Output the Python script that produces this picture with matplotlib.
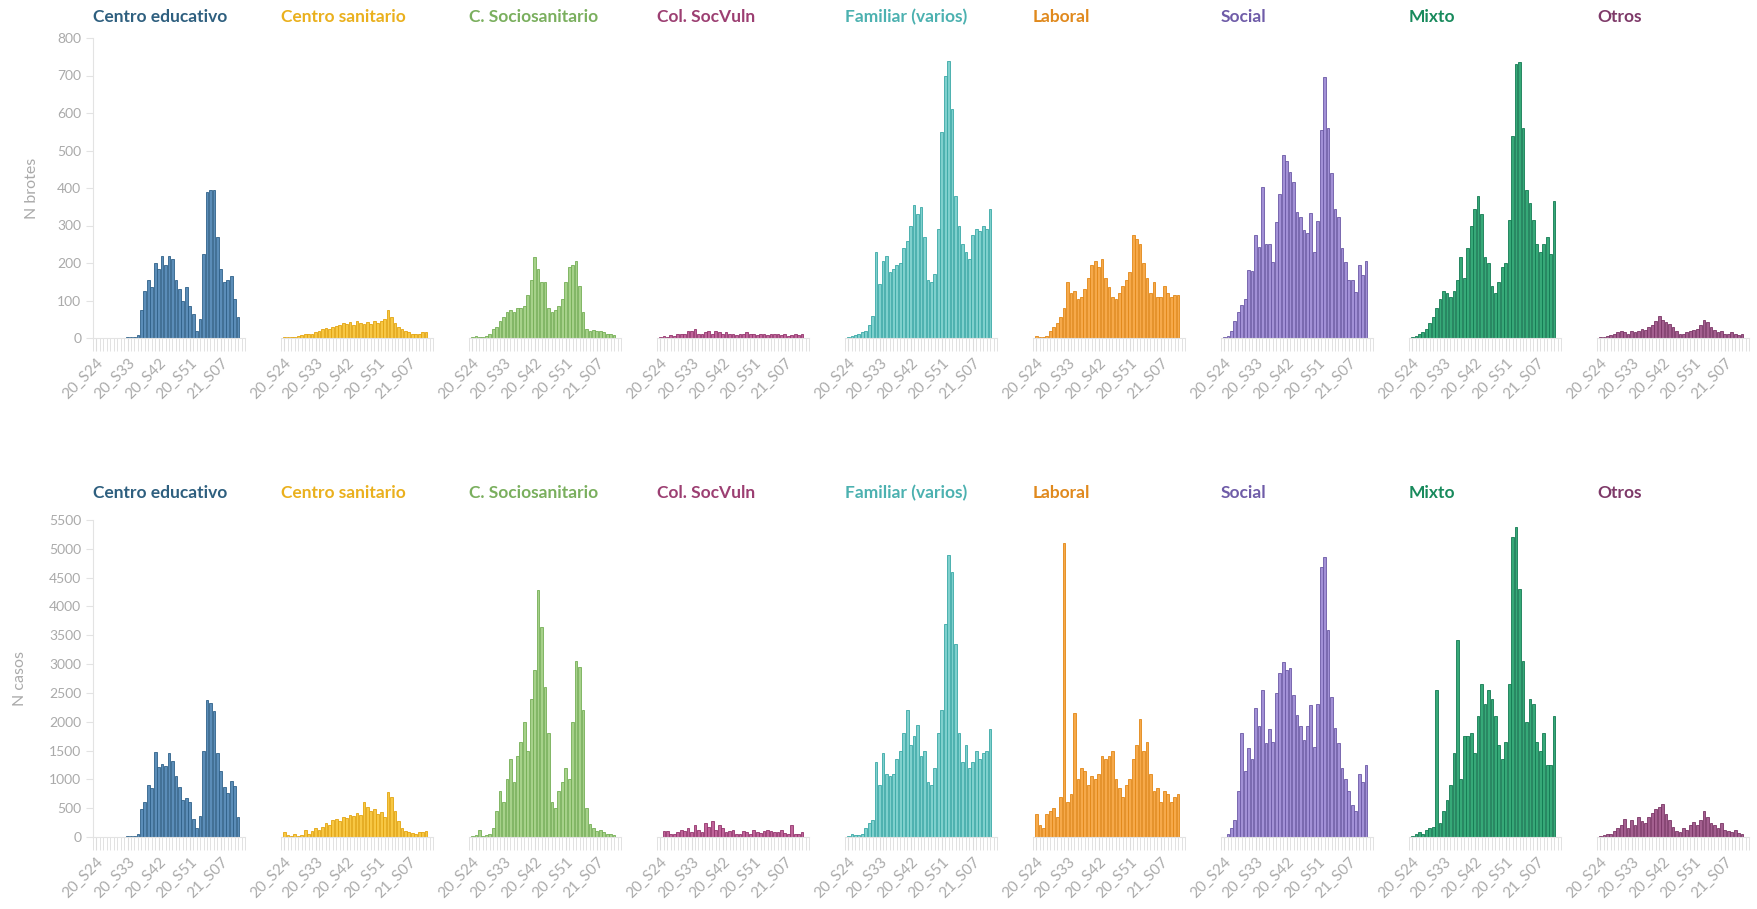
import matplotlib
matplotlib.use('Agg')
import matplotlib.pyplot as plt
from matplotlib.ticker import MultipleLocator

plt.rcParams['font.family'] = ['Lato', 'DejaVu Sans']

# semanas 20_S24 ... 21_S12
semanas = ['20_S%02d' % s for s in range(24, 54)] + ['21_S%02d' % s for s in range(1, 13)]
etiquetas = ['20_S24', '20_S33', '20_S42', '20_S51', '21_S07']

ambitos = ['Centro educativo', 'Centro sanitario', 'C. Sociosanitario', 'Col. SocVuln',
           'Familiar (varios)', 'Laboral', 'Social', 'Mixto', 'Otros']

# N brotes por semana
brotes_educativo = [0, 0, 0, 0, 0, 0, 0, 0, 1, 3, 3, 3, 8, 75, 125, 155, 135, 200, 185, 220, 195,
                    220, 210, 155, 130, 100, 135, 85, 65, 20, 50, 225, 390, 395, 395, 270, 185,
                    150, 155, 165, 105, 55]
brotes_sanitario = [3, 2, 2, 2, 5, 8, 10, 10, 12, 15, 18, 25, 28, 25, 30, 32, 35, 40, 38, 42, 35,
                    45, 40, 38, 42, 38, 45, 40, 45, 50, 75, 55, 40, 30, 25, 18, 15, 12, 10, 12, 15, 15]
brotes_sociosan = [3, 5, 2, 3, 6, 10, 25, 30, 45, 55, 70, 75, 70, 80, 80, 85, 115, 155, 215, 185, 150,
                   150, 80, 70, 75, 85, 105, 150, 190, 195, 205, 140, 70, 25, 20, 22, 18, 20, 15, 12, 10, 8]
brotes_socvuln = [3, 5, 2, 8, 6, 10, 12, 10, 18, 20, 25, 12, 10, 15, 18, 12, 20, 15, 10, 15, 12,
                  10, 8, 12, 10, 15, 12, 10, 8, 12, 10, 8, 12, 10, 12, 8, 10, 6, 8, 10, 8, 12]
brotes_familiar = [3, 5, 8, 10, 15, 20, 35, 60, 230, 145, 205, 220, 175, 185, 195, 200, 240, 260, 300,
                   355, 330, 350, 270, 155, 150, 170, 290, 550, 700, 740, 610, 380, 300, 250, 230, 210,
                   275, 290, 285, 300, 290, 345]
brotes_laboral = [5, 3, 3, 5, 20, 30, 40, 55, 80, 150, 120, 125, 105, 110, 130, 160, 195, 205, 190, 210,
                  160, 135, 110, 105, 120, 140, 155, 175, 275, 265, 250, 200, 160, 120, 150, 110, 110,
                  140, 120, 110, 115, 115]
brotes_social = [2, 5, 20, 45, 70, 89, 105, 181, 179, 275, 244, 404, 250, 252, 204, 309, 384, 488, 471,
                 443, 416, 336, 324, 288, 281, 333, 230, 313, 556, 696, 561, 440, 345, 324, 239, 204,
                 154, 154, 123, 195, 168, 205]
brotes_mixto = [2, 5, 10, 15, 25, 40, 55, 80, 105, 125, 120, 110, 125, 155, 215, 160, 240, 300, 345, 380,
                330, 215, 200, 140, 120, 150, 190, 200, 315, 540, 730, 735, 560, 395, 360, 315, 250,
                230, 250, 270, 225, 365]
brotes_otros = [2, 3, 5, 8, 10, 15, 18, 15, 12, 18, 15, 20, 25, 22, 30, 35, 45, 58, 48, 42, 38, 30,
                20, 12, 10, 15, 18, 22, 25, 35, 48, 42, 30, 22, 15, 18, 12, 10, 15, 12, 8, 10]

# N casos por semana
casos_educativo = [0, 0, 0, 0, 0, 0, 0, 0, 0, 10, 15, 20, 60, 480, 610, 900, 850, 1480, 1220, 1260,
                   1230, 1460, 1320, 1060, 870, 640, 680, 600, 310, 150, 370, 1500, 2380, 2320, 2180,
                   1460, 1150, 870, 760, 980, 880, 350]
casos_sanitario = [80, 30, 10, 60, 20, 40, 120, 60, 100, 150, 130, 180, 250, 200, 300, 320, 280, 350,
                   330, 380, 360, 420, 380, 600, 520, 450, 480, 400, 430, 350, 780, 700, 450, 280, 150,
                   100, 80, 70, 60, 80, 90, 100]
casos_sociosan = [20, 30, 120, 10, 30, 50, 150, 450, 800, 600, 1000, 1350, 950, 1400, 1650, 2000, 1500,
                  2400, 2900, 4280, 3650, 2600, 1800, 600, 500, 800, 950, 1200, 1000, 2000, 3050, 2950,
                  2200, 500, 220, 150, 100, 120, 80, 60, 50, 40]
casos_socvuln = [0, 100, 100, 50, 60, 80, 120, 100, 150, 90, 200, 130, 80, 250, 180, 270, 120, 210, 150,
                 80, 100, 120, 60, 50, 110, 80, 60, 130, 90, 70, 110, 130, 100, 90, 80, 120, 70, 60,
                 200, 60, 50, 90]
casos_familiar = [20, 50, 30, 40, 60, 150, 250, 300, 1300, 900, 1450, 1100, 1050, 1100, 1350, 1500, 1800,
                  2200, 1600, 1750, 1950, 1400, 1500, 950, 900, 1200, 1800, 2200, 3700, 4900, 4600, 3350,
                  1800, 1300, 1600, 1200, 1300, 1500, 1350, 1450, 1500, 1870]
casos_laboral = [400, 200, 150, 400, 450, 500, 350, 700, 5100, 600, 750, 2150, 1000, 1200, 1150, 900,
                 1050, 1000, 1100, 1400, 1350, 1400, 1500, 1000, 850, 700, 900, 1000, 1350, 1600, 2050,
                 1500, 1650, 1100, 800, 850, 600, 800, 750, 600, 700, 750]
casos_social = [0, 50, 150, 300, 800, 1800, 1150, 1540, 1360, 2230, 1925, 2550, 1625, 1870, 1650, 2500,
                2840, 3040, 2900, 2940, 2460, 2115, 1925, 1680, 1925, 2290, 1565, 2300, 4690, 4850, 3590,
                2430, 1885, 1635, 1200, 1000, 800, 550, 450, 1100, 950, 1250]
casos_mixto = [20, 50, 80, 60, 120, 150, 180, 2550, 250, 450, 650, 900, 1450, 3420, 1000, 1750, 1750,
               1800, 1450, 2100, 2650, 2300, 2550, 2400, 2100, 1600, 1350, 1650, 2650, 5200, 5380, 4300,
               3050, 2000, 2400, 2300, 1650, 1500, 1800, 1250, 1250, 2100]
casos_otros = [20, 30, 50, 60, 100, 150, 200, 320, 150, 300, 200, 350, 280, 250, 350, 420, 480, 520, 570,
               400, 300, 180, 100, 80, 150, 130, 200, 260, 200, 300, 450, 350, 250, 200, 150, 250, 120,
               100, 80, 120, 70, 60]

brotes = [brotes_educativo, brotes_sanitario, brotes_sociosan, brotes_socvuln, brotes_familiar,
          brotes_laboral, brotes_social, brotes_mixto, brotes_otros]
casos = [casos_educativo, casos_sanitario, casos_sociosan, casos_socvuln, casos_familiar,
         casos_laboral, casos_social, casos_mixto, casos_otros]

relleno = ['#5b8db8', '#f7c744', '#a6d18a', '#c0649a', '#7fd0cd', '#f6a94a', '#a290d6', '#36a978', '#a35f8f']
borde = ['#2f6189', '#e3a40f', '#74ae55', '#93346c', '#3aa8a6', '#e28716', '#6b58a5', '#137a52', '#7a3566']
titulo = ['#2e5f7f', '#eab01d', '#7aaf5e', '#9c3f72', '#4cb1b0', '#e0891d', '#6f5ca8', '#188a5c', '#7e3a69']

W, H = 1758, 909
GRIS = '#aaaaaa'


def panel(fig, fila, j, datos, ymax, paso, ylab):
    if fila == 0:
        bottom, height, ytit = 338, 300, 17
    else:
        bottom, height, ytit = 837, 317, 493
    left = 93 + 188 * j
    ax = fig.add_axes([left / W, 1 - bottom / H, 152 / W, height / H])
    x = list(range(len(semanas)))
    ax.bar(x, datos, width=0.78, color=relleno[j], edgecolor=borde[j], linewidth=0.6)
    ax.set_xlim(-1, len(semanas) + 1)
    ax.set_ylim(0, ymax)
    for s in ['top', 'right']:
        ax.spines[s].set_visible(False)
    ax.spines['bottom'].set_color('#e3e3e3')
    ax.set_xticks([semanas.index(e) for e in etiquetas])
    ax.set_xticklabels(etiquetas, rotation=45, ha='right', rotation_mode='anchor')
    ax.xaxis.set_minor_locator(MultipleLocator(1))
    ax.tick_params(axis='x', which='both', length=9, color='#dddddd', labelcolor=GRIS,
                   labelsize=11, pad=4)
    ax.yaxis.set_major_locator(MultipleLocator(paso))
    if j == 0:
        ax.spines['left'].set_color('#e3e3e3')
        ax.tick_params(axis='y', length=5, color='#e3e3e3', labelcolor=GRIS, labelsize=10)
        fig.text(20 / W if fila else 32 / W, 1 - (bottom - height / 2) / H, ylab, rotation=90,
                 ha='center', va='center', color=GRIS, fontsize=11.5)
    else:
        ax.spines['left'].set_visible(False)
        ax.tick_params(axis='y', left=False, labelleft=False)
    fig.text(left / W, 1 - ytit / H, ambitos[j], color=titulo[j], fontsize=12.5,
             fontweight='bold', ha='left', va='center')


def main():
    fig = plt.figure(figsize=(W / 100, H / 100), dpi=100)
    for j in range(9):
        panel(fig, 0, j, brotes[j], 800, 100, 'N brotes')
        panel(fig, 1, j, casos[j], 5500, 500, 'N casos')
    fig.savefig('out.png', dpi=100, facecolor='white')


if __name__ == '__main__':
    main()
